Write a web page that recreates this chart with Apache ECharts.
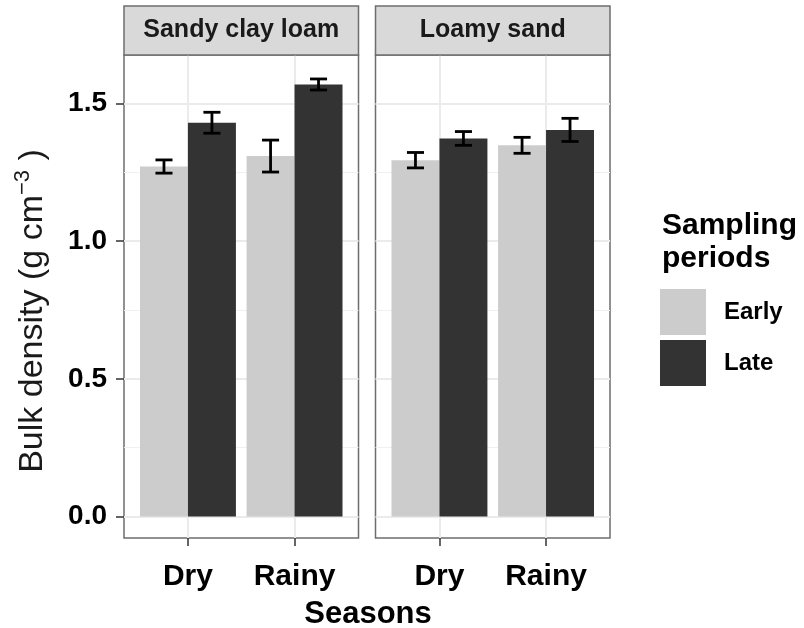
<!DOCTYPE html>
<html>
<head>
<meta charset="utf-8">
<script src="https://cdn.jsdelivr.net/npm/echarts@6/dist/echarts.min.js"></script>
<style>html,body{margin:0;padding:0;background:#fff;}#c{width:804px;height:628px;}</style>
</head>
<body>
<div id="c"></div>
<script>
// ---- data ----
const seasons = ['Dry', 'Rainy'];
const soils = ['Sandy clay loam', 'Loamy sand'];
const periods = ['Early', 'Late'];
const yTicks = [0, 0.5, 1.0, 1.5];
const yMinorTicks = [0.25, 0.75, 1.25];
// Sandy clay loam
const sclEarly = [1.271, 1.309];
const sclEarlyErr = [0.024, 0.058];
const sclLate = [1.430, 1.569];
const sclLateErr = [0.038, 0.020];
// Loamy sand
const lsEarly = [1.294, 1.348];
const lsEarlyErr = [0.028, 0.029];
const lsLate = [1.373, 1.404];
const lsLateErr = [0.025, 0.042];

const FONT = '"Liberation Sans", Arial, sans-serif';
const colors = {Early: '#CCCCCC', Late: '#333333'};
const panels = [
  {early: sclEarly, earlyErr: sclEarlyErr, late: sclLate, lateErr: sclLateErr},
  {early: lsEarly, earlyErr: lsEarlyErr, late: lsLate, lateErr: lsLateErr}
];
const gridLeft = [124, 375.5];
const gridW = 234.5, gridTop = 55, gridH = 483;
const yMin = -0.078, yMax = 1.676;

function makeRender(offset, color) {
  return function (params, api) {
    const x = api.value(0), y = api.value(1), e = api.value(2);
    const bw = 0.45, cap = 0.08;
    const p0 = api.coord([x + offset - bw / 2, y]);
    const p1 = api.coord([x + offset + bw / 2, 0]);
    const top = api.coord([x + offset, y + e]);
    const bot = api.coord([x + offset, y - e]);
    const cl = api.coord([x + offset - cap, y]);
    const cr = api.coord([x + offset + cap, y]);
    const ls = {stroke: '#000', lineWidth: 2.8};
    return {
      type: 'group',
      children: [
        {type: 'rect', shape: {x: p0[0], y: p0[1], width: p1[0] - p0[0], height: p1[1] - p0[1]}, style: {fill: color}},
        {type: 'line', shape: {x1: top[0], y1: top[1], x2: bot[0], y2: bot[1]}, style: ls},
        {type: 'line', shape: {x1: cl[0], y1: top[1], x2: cr[0], y2: top[1]}, style: ls},
        {type: 'line', shape: {x1: cl[0], y1: bot[1], x2: cr[0], y2: bot[1]}, style: ls}
      ]
    };
  };
}

const grids = [], xAxes = [], yAxes = [], series = [];
panels.forEach((p, i) => {
  grids.push({left: gridLeft[i], top: gridTop, width: gridW, height: gridH, show: true,
    backgroundColor: '#fff', borderColor: '#6e6e6e', borderWidth: 1.5, outerBoundsMode: 'none', containLabel: false});
  xAxes.push({type: 'value', gridIndex: i, min: 0.4, max: 2.6, position: 'bottom',
    axisLine: {show: false, onZero: false},
    axisTick: {show: true, customValues: [1, 2], length: 8, lineStyle: {color: '#333', width: 1.5}},
    axisLabel: {show: true, customValues: [1, 2], formatter: v => seasons[Math.round(v) - 1], margin: 24,
      fontFamily: FONT, fontWeight: 'bold', fontSize: 30, color: '#000'},
    splitLine: {show: true, lineStyle: {color: '#EBEBEB', width: 2}}});
  // major y
  yAxes.push({type: 'value', gridIndex: i, min: yMin, max: yMax,
    axisLine: {show: false, onZero: false},
    axisTick: {show: i === 0, customValues: yTicks, length: 8, lineStyle: {color: '#333', width: 1.5}},
    axisLabel: {show: i === 0, customValues: yTicks, formatter: v => v.toFixed(1), margin: 17,
      fontFamily: FONT, fontWeight: 'bold', fontSize: 28, color: '#000'},
    splitLine: {show: true, lineStyle: {color: '#EBEBEB', width: 2}}});
  // minor y (grid lines only)
  yAxes.push({type: 'value', gridIndex: i, min: yMin, max: yMax,
    axisLine: {show: false, onZero: false},
    axisTick: {show: false, customValues: yMinorTicks},
    axisLabel: {show: false, customValues: yMinorTicks},
    splitLine: {show: true, lineStyle: {color: '#F0F0F0', width: 1.2}}});
  const yi = i * 2;
  series.push({type: 'custom', name: 'Early', xAxisIndex: i, yAxisIndex: yi, z: 3,
    itemStyle: {color: colors.Early}, encode: {x: 0, y: 1},
    data: seasons.map((s, k) => [k + 1, p.early[k], p.earlyErr[k]]),
    renderItem: makeRender(-0.225, colors.Early)});
  series.push({type: 'custom', name: 'Late', xAxisIndex: i, yAxisIndex: yi, z: 3,
    itemStyle: {color: colors.Late}, encode: {x: 0, y: 1},
    data: seasons.map((s, k) => [k + 1, p.late[k], p.lateErr[k]]),
    renderItem: makeRender(0.225, colors.Late)});
});

const graphics = [];
soils.forEach((s, i) => {
  graphics.push({type: 'rect', shape: {x: gridLeft[i], y: 6, width: gridW, height: gridTop - 6},
    style: {fill: '#D9D9D9', stroke: '#6e6e6e', lineWidth: 1.5}, z: 10});
  graphics.push({type: 'text', x: gridLeft[i] + gridW / 2, y: 6 + (gridTop - 6) / 2, z: 11,
    style: {text: s, align: 'center', verticalAlign: 'middle', fontFamily: FONT, fontWeight: 'bold', fontSize: 25, fill: '#1a1a1a'}});
});
graphics.push({type: 'text', x: 368, y: 614, z: 11,
  style: {text: 'Seasons', align: 'center', verticalAlign: 'middle', fontFamily: FONT, fontWeight: 'bold', fontSize: 31, fill: '#000'}});
graphics.push({type: 'text', x: 33, y: 311, rotation: Math.PI / 2, z: 11,
  style: {text: 'Bulk density (g cm{sup|\u22123} )', align: 'center', verticalAlign: 'middle',
    fontFamily: FONT, fontSize: 34, fill: '#1a1a1a', lineHeight: 42,
    rich: {sup: {fontFamily: FONT, fontSize: 22, verticalAlign: 'top', fill: '#1a1a1a'}}}});
graphics.push({type: 'text', x: 662, y: 209, z: 11,
  style: {text: 'Sampling\nperiods', align: 'left', verticalAlign: 'top', lineHeight: 33,
    fontFamily: FONT, fontWeight: 'bold', fontSize: 30, fill: '#000'}});

const chart = echarts.init(document.getElementById('c'), null, {renderer: 'canvas'});
chart.setOption({
  animation: false,
  backgroundColor: '#fff',
  grid: grids, xAxis: xAxes, yAxis: yAxes, series: series,
  legend: {data: periods, orient: 'vertical', left: 660, top: 289, padding: 0,
    itemWidth: 46, itemHeight: 46, itemGap: 5, icon: 'rect', selectedMode: false,
    textStyle: {fontFamily: FONT, fontWeight: 'bold', fontSize: 24, color: '#000', padding: [0, 0, 0, 13]}},
  graphic: graphics
});
</script>
</body>
</html>
